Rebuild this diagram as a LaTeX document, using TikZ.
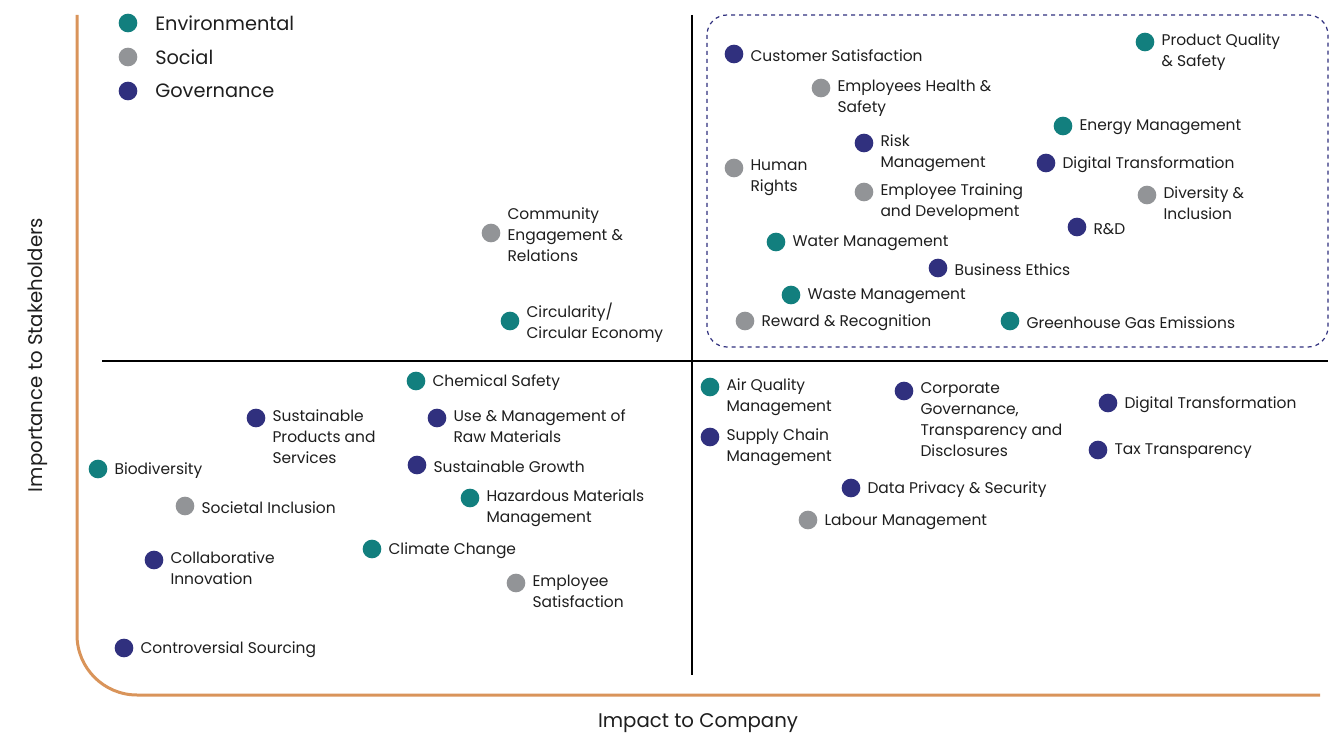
\documentclass[tikz,border=0pt]{standalone}
\usepackage{fontspec}
\setmainfont{Poppins}
\usetikzlibrary{positioning}

\definecolor{envcol}{RGB}{18,127,126}
\definecolor{soccol}{RGB}{146,148,151}
\definecolor{govcol}{RGB}{48,48,126}
\definecolor{axiscol}{RGB}{217,148,90}
\definecolor{txtcol}{RGB}{30,30,30}

\tikzset{
  issue/.style={circle, inner sep=0pt, minimum size=14pt},
  envdot/.style={issue, fill=envcol},
  socdot/.style={issue, fill=soccol},
  govdot/.style={issue, fill=govcol},
  lbl/.style={inner sep=0pt, align=left, text=txtcol, font=\fontsize{11.6}{15.75}\selectfont},
  one/.style={lbl, right=5pt of #1, yshift=-1.2pt},
  multi/.style={lbl, anchor=north west, xshift=5pt, yshift=6.5pt},
  legendtxt/.style={inner sep=0pt, anchor=west, text=txtcol, font=\fontsize{14.5}{17}\selectfont},
  axislbl/.style={inner sep=0pt, text=txtcol, font=\fontsize{14.8}{17}\selectfont}
}

\begin{document}
\begin{tikzpicture}[x=0.75pt,y=0.75pt,yscale=-1,xscale=1]
\useasboundingbox (0,0) rectangle (1335,734);

% axes
\draw [axiscol, line width=2.25pt, rounded corners=45pt] (77,15) -- (77,695) -- (1320,695);
\draw [black, line width=1.1pt] (692,15) -- (692,675);
\draw [black, line width=1.1pt] (102,361) -- (1328,361);
\node [axislbl] (xlab) at (698,723) {Impact to Company};
\node [axislbl, rotate=90] (ylab) at (38,355) {Importance to Stakeholders};

% dashed box
\draw [govcol, line width=0.9pt, dashed, rounded corners=15pt] (707,15) rectangle (1328,347);

% legend
\node [envdot] (lenv) at (128,23) {};
\node [legendtxt] at (155,23) {Environmental};
\node [socdot] (lsoc) at (128,57) {};
\node [legendtxt] at (155,57) {Social};
\node [govdot] (lgov) at (128,91) {};
\node [legendtxt] at (155,91) {Governance};

% top right
\node [govdot] (cust) at (734,54) {};
\node [one=cust] {Customer Satisfaction};
\node [envdot] (pq) at (1145,42) {};
\node [multi] at (pq.east) {Product Quality\\\& Safety};
\node [socdot] (ehs) at (821,88) {};
\node [multi] at (ehs.east) {Employees Health \&\\Safety};
\node [envdot] (energy) at (1063,126) {};
\node [one=energy] {Energy Management};
\node [govdot] (risk) at (864,143) {};
\node [multi] at (risk.east) {Risk\\Management};
\node [govdot] (digi) at (1046,163) {};
\node [one=digi] {Digital Transformation};
\node [socdot] (human) at (734,168) {};
\node [multi] at (human.east) {Human\\Rights};
\node [socdot] (train) at (864,192) {};
\node [multi] at (train.east) {Employee Training\\and Development};
\node [socdot] (divers) at (1147,195) {};
\node [multi] at (divers.east) {Diversity \&\\Inclusion};
\node [govdot] (rnd) at (1077,227) {};
\node [one=rnd] {R\&D};
\node [envdot] (water) at (776,242) {};
\node [one=water] {Water Management};
\node [govdot] (ethics) at (938,268) {};
\node [one=ethics] {Business Ethics};
\node [envdot] (waste) at (791,295) {};
\node [one=waste] {Waste Management};
\node [socdot] (reward) at (745,321) {};
\node [one=reward] {Reward \& Recognition};
\node [envdot] (ghg) at (1010,321) {};
\node [one=ghg] {Greenhouse Gas Emissions};

% top left
\node [socdot] (comm) at (491,233) {};
\node [one=comm] {Community\\Engagement \&\\Relations};
\node [envdot] (circ) at (510,321) {};
\node [one=circ] {Circularity/\\Circular Economy};

% bottom left
\node [envdot] (chem) at (416,381) {};
\node [one=chem] {Chemical Safety};
\node [govdot] (sprod) at (256,418) {};
\node [multi] at (sprod.east) {Sustainable\\Products and\\Services};
\node [govdot] (raw) at (437,418) {};
\node [multi] at (raw.east) {Use \& Management of\\Raw Materials};
\node [envdot] (bio) at (98,469) {};
\node [one=bio] {Biodiversity};
\node [govdot] (sgrow) at (417,465) {};
\node [one=sgrow] {Sustainable Growth};
\node [envdot] (haz) at (470,498) {};
\node [multi] at (haz.east) {Hazardous Materials\\Management};
\node [socdot] (societal) at (185,506) {};
\node [one=societal] {Societal Inclusion};
\node [govdot] (collab) at (154,560) {};
\node [multi] at (collab.east) {Collaborative\\Innovation};
\node [envdot] (climate) at (372,549) {};
\node [one=climate] {Climate Change};
\node [socdot] (esat) at (516,583) {};
\node [multi] at (esat.east) {Employee\\Satisfaction};
\node [govdot] (contro) at (124,648) {};
\node [one=contro] {Controversial Sourcing};

% bottom right
\node [envdot] (air) at (710,387) {};
\node [multi] at (air.east) {Air Quality\\Management};
\node [govdot] (corp) at (904,391) {};
\node [multi] at (corp.east) {Corporate\\Governance,\\Transparency and\\Disclosures};
\node [govdot] (digi2) at (1108,403) {};
\node [one=digi2] {Digital Transformation};
\node [govdot] (supply) at (710,437) {};
\node [multi] at (supply.east) {Supply Chain\\Management};
\node [govdot] (tax) at (1098,450) {};
\node [one=tax] {Tax Transparency};
\node [govdot] (privacy) at (851,488) {};
\node [one=privacy] {Data Privacy \& Security};
\node [socdot] (labour) at (808,520) {};
\node [one=labour] {Labour Management};

\end{tikzpicture}
\end{document}
